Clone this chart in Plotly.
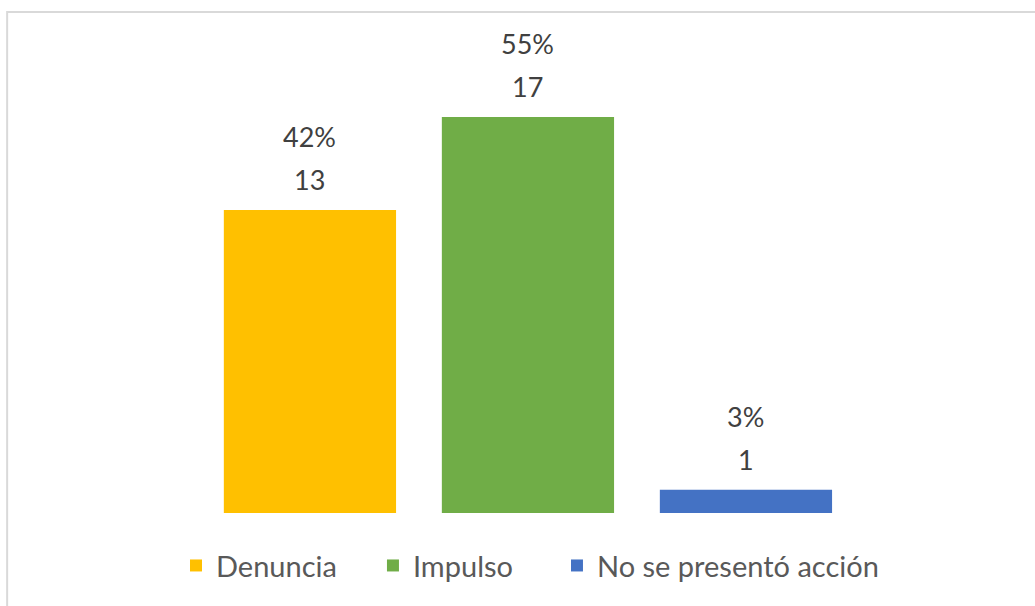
import plotly.graph_objects as go

categorias = ["Denuncia", "Impulso", "No se presentó acción"]
valores = [13, 17, 1]
colores = ["#FFC000", "#70AD47", "#4472C4"]

total = sum(valores)
porcentajes = [round(v * 100 / total) for v in valores]

# posicion horizontal de cada entrada de la leyenda (fraccion del papel)
pos_leyenda = [0.1552, 0.3512, 0.5343]

fig = go.Figure()
layout_leyendas = {}
for i in range(len(categorias)):
    nombre_ley = "legend" if i == 0 else "legend" + str(i + 1)
    fig.add_trace(go.Bar(x=[i], y=[valores[i]], name=categorias[i],
                         marker=dict(color=colores[i], line=dict(width=0)),
                         width=0.79, hoverinfo="skip", legend=nombre_ley))
    fig.add_annotation(x=i, y=valores[i], text=str(valores[i]), showarrow=False,
                       yanchor="bottom", yshift=12,
                       font=dict(size=27, color="#404040", family="Lato"))
    fig.add_annotation(x=i, y=valores[i], text=str(porcentajes[i]) + "%", showarrow=False,
                       yanchor="bottom", yshift=55,
                       font=dict(size=27, color="#404040", family="Lato"))
    layout_leyendas[nombre_ley] = dict(orientation="h", x=pos_leyenda[i], xanchor="left",
                                       y=-0.055, yanchor="top", bgcolor="rgba(0,0,0,0)",
                                       font=dict(size=29, color="#595959", family="Lato"),
                                       itemwidth=30)

# borde del grafico (se sale por la derecha y por abajo)
fig.add_shape(type="rect", xref="paper", yref="paper", x0=-0.0128, x1=1.03, y0=-0.3, y1=1.016,
              line=dict(color="#D9D9D9", width=2), fillcolor="rgba(0,0,0,0)", layer="below")

fig.update_layout(
    width=1035, height=606,
    margin=dict(l=20, r=10, t=20, b=93),
    paper_bgcolor="white", plot_bgcolor="white",
    barmode="overlay",
    showlegend=True,
    xaxis=dict(range=[-1.33, 3.28], visible=False, fixedrange=True),
    yaxis=dict(range=[0, 21.16], visible=False, fixedrange=True),
    **layout_leyendas,
)

fig.write_html("out.html", config={"displayModeBar": False},
               post_script="document.body.style.margin='0';")
